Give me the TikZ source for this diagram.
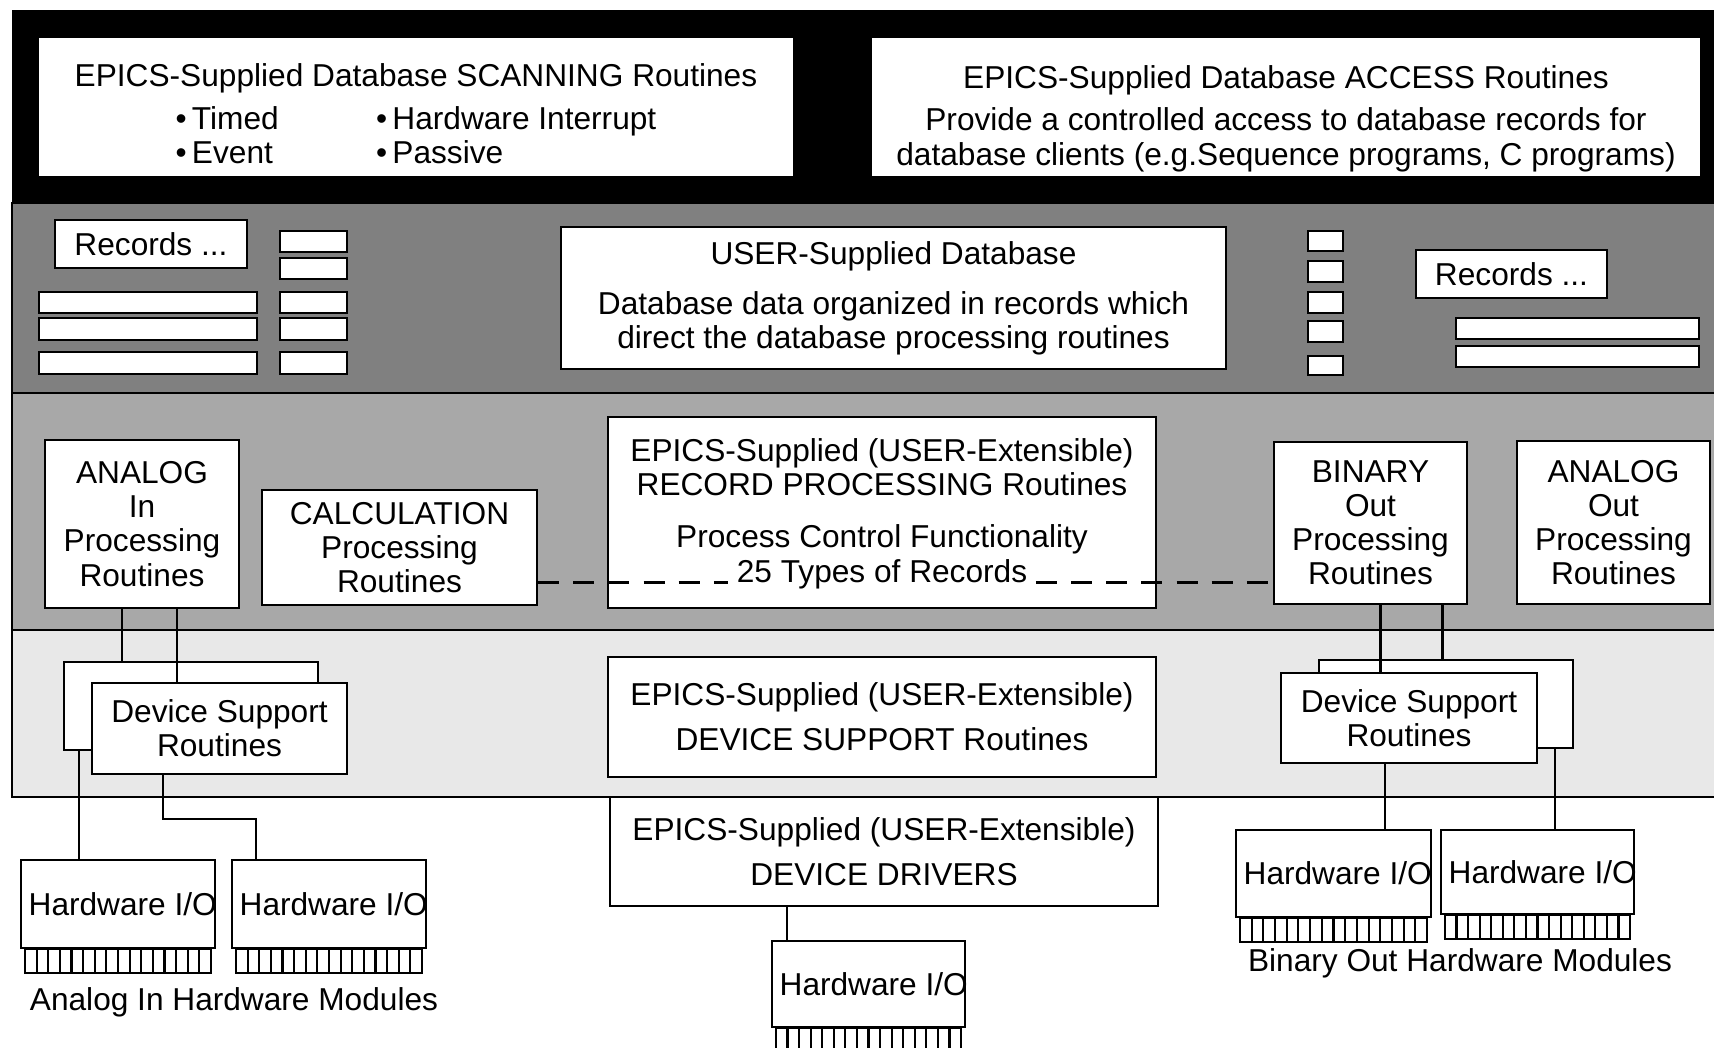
\documentclass[tikz,border=0pt]{standalone}
\usepackage{fontspec}
\setmainfont{Liberation Sans}
\usetikzlibrary{calc}

\definecolor{bandDark}{gray}{0.50}
\definecolor{bandMid}{gray}{0.66}
\definecolor{bandLight}{gray}{0.91}

\tikzset{
    box/.style={draw, fill=white, line width=0.6pt, inner sep=0pt, align=center},
    slot/.style={draw, fill=white, line width=0.6pt},
    wire/.style={line width=0.6pt},
    dashline/.style={line width=0.6pt, dash pattern=on 6pt off 4pt},
}
% box between two corners, with its text
\newcommand\PanelBox[6]{%
    \node[box, minimum width={(#4-#2)*0.01cm}, minimum height={(#5-#3)*0.01cm}]
        (#1) at ({(#2+#4)/2},{(#3+#5)/2}) {#6};
}
% hardware card with its pins
\newcommand\HWModule[5]{%
    \PanelBox{#1}{#2}{#3}{#4}{#5}{}
    \begin{scope}
        \clip (#1.south west) rectangle (#1.north east);
        \node[anchor=west, inner sep=0pt] at ([xshift=0.08cm]#1.west) {Hardware I/O};
    \end{scope}
    \coordinate (#1pl) at ([xshift=0.05cm]#1.south west);
    \coordinate (#1pr) at ([xshift=-0.05cm]#1.south east);
    \draw[wire] (#1pl) rectangle ($(#1pr)+(0,24)$);
    \foreach \k in {1,...,15}
        \draw[wire] ($(#1pl)!\k/16!(#1pr)$) -- ++(0,24);
}

\begin{document}
\begin{tikzpicture}[x=0.01cm, y=-0.01cm, font={\fontsize{9}{9.7}\selectfont}]
    \useasboundingbox (0,0) rectangle (1714,1047);
    % bands
    \fill[black] (12,10) rectangle (1720,203);
    \filldraw[fill=bandDark, line width=0.6pt] (12,203) rectangle (1720,393);
    \filldraw[fill=bandMid, line width=0.6pt] (12,393) rectangle (1720,630);
    \filldraw[fill=bandLight, line width=0.6pt] (12,630) rectangle (1720,797);

    % scanning / access
    \PanelBox{scan}{38}{37}{794}{177}{\rule{0pt}{13pt}EPICS-Supplied Database SCANNING Routines\\[2.5pt]
        \begin{tabular}{@{}l@{}l@{}}
            \makebox[57pt][l]{\textbullet\,Timed} & \textbullet\,Hardware Interrupt\\
            \makebox[57pt][l]{\textbullet\,Event} & \textbullet\,Passive
        \end{tabular}}
    \PanelBox{access}{871}{37}{1701}{177}{\rule{0pt}{13pt}EPICS-Supplied Database ACCESS Routines\\[2.5pt]
        Provide a controlled access to database records for\\
        database clients (e.g.Sequence programs, C programs)}

    % database records
    \PanelBox{recL}{55}{220}{247}{268}{Records ...}
    \foreach \ya/\yb in {231/252,258/279,292/313,318/340,352/374}
        \draw[slot] (280,\ya) rectangle (347,\yb);
    \foreach \ya/\yb in {292/313,318/340,352/374}
        \draw[slot] (39,\ya) rectangle (257,\yb);
    \PanelBox{user}{561}{227}{1226}{369}{USER-Supplied Database\\[4.5pt]
        Database data organized in records which\\
        direct the database processing routines}
    \foreach \ya/\yb in {231/251,261/282,292/313,321/342,356/375}
        \draw[slot] (1308,\ya) rectangle (1343,\yb);
    \PanelBox{recR}{1416}{250}{1607}{298}{Records ...}
    \foreach \ya/\yb in {318/339,346/367}
        \draw[slot] (1456,\ya) rectangle (1699,\yb);

    % record processing
    \PanelBox{aiproc}{45}{440}{239}{608}{ANALOG\\In\\Processing\\Routines}
    \PanelBox{calc}{262}{490}{537}{605}{CALCULATION\\Processing\\Routines}
    \PanelBox{recproc}{608}{417}{1156}{608}{}
    \node[align=center] (recprocTxt) at ($(recproc.center)+(0,-16)$)
        {EPICS-Supplied (USER-Extensible)\\RECORD PROCESSING Routines\\[5pt]Process Control Functionality};
    \node[anchor=base, inner xsep=0.08cm] (types) at ($(recproc.center)+(0,70)$) {25 Types of Records};
    \PanelBox{boproc}{1274}{442}{1467}{604}{BINARY\\Out\\Processing\\Routines}
    \PanelBox{aoproc}{1517}{441}{1710}{604}{ANALOG\\Out\\Processing\\Routines}
    \draw[dashline] (calc.east |- types.base) -- (types.base west);
    \draw[dashline] (types.base east) -- (boproc.west |- types.base);

    % device support
    \PanelBox{dsaiback}{64}{662}{318}{750}{}
    \PanelBox{dsai}{92}{683}{347}{774}{Device Support\\Routines}
    \PanelBox{devsup}{608}{657}{1156}{777}{EPICS-Supplied (USER-Extensible)\\[3pt]DEVICE SUPPORT Routines}
    \PanelBox{dsboback}{1319}{660}{1573}{748}{}
    \PanelBox{dsbo}{1281}{673}{1537}{763}{Device Support\\Routines}

    % drivers and hardware
    \PanelBox{drivers}{610}{797}{1158}{906}{EPICS-Supplied (USER-Extensible)\\[3pt]DEVICE DRIVERS}
    \HWModule{hw1}{21}{860}{215}{948}
    \HWModule{hw2}{232}{860}{426}{948}
    \HWModule{hwc}{772}{941}{965}{1027}
    \HWModule{hw3}{1236}{830}{1431}{917}
    \HWModule{hw4}{1441}{830}{1634}{914}
    \node (aiLabel) at (234,1002) {Analog In Hardware Modules};
    \node (boLabel) at (1460,963) {Binary Out Hardware Modules};

    % analog in links
    \coordinate (aiA) at ($(aiproc.south)+(-20,0)$);
    \coordinate (aiB) at ($(aiproc.south)+(35,0)$);
    \coordinate (aiC) at ($(dsaiback.south west)+(16,0)$);
    \coordinate (aiD) at ($(dsai.south west)+(72,0)$);
    \draw[wire] (aiA) -- (aiA |- dsaiback.north);
    \draw[wire] (aiB) -- (aiB |- dsai.north);
    \draw[wire] (aiC) -- (aiC |- hw1.north);
    \draw[wire] (aiD) -- ++(0,44) -| ($(hw2.north west)+(25,0)$);
    % binary out links
    \coordinate (boA) at ($(boproc.south)+(10,0)$);
    \coordinate (boB) at ($(boproc.south)+(72,0)$);
    \coordinate (boC) at ($(dsbo.south west)+(105,0)$);
    \coordinate (boD) at ($(dsboback.south east)+(-19,0)$);
    \draw[wire] (boA) -- (boA |- dsbo.north);
    \draw[wire] (boB) -- (boB |- dsboback.north);
    \draw[wire] (boC) -- (boC |- hw3.north);
    \draw[wire] (boD) -- (boD |- hw4.north);
    % driver link
    \coordinate (drvA) at ($(hwc.north west)+(16,0)$);
    \draw[wire] (drvA |- drivers.south) -- (drvA);
\end{tikzpicture}
\end{document}
